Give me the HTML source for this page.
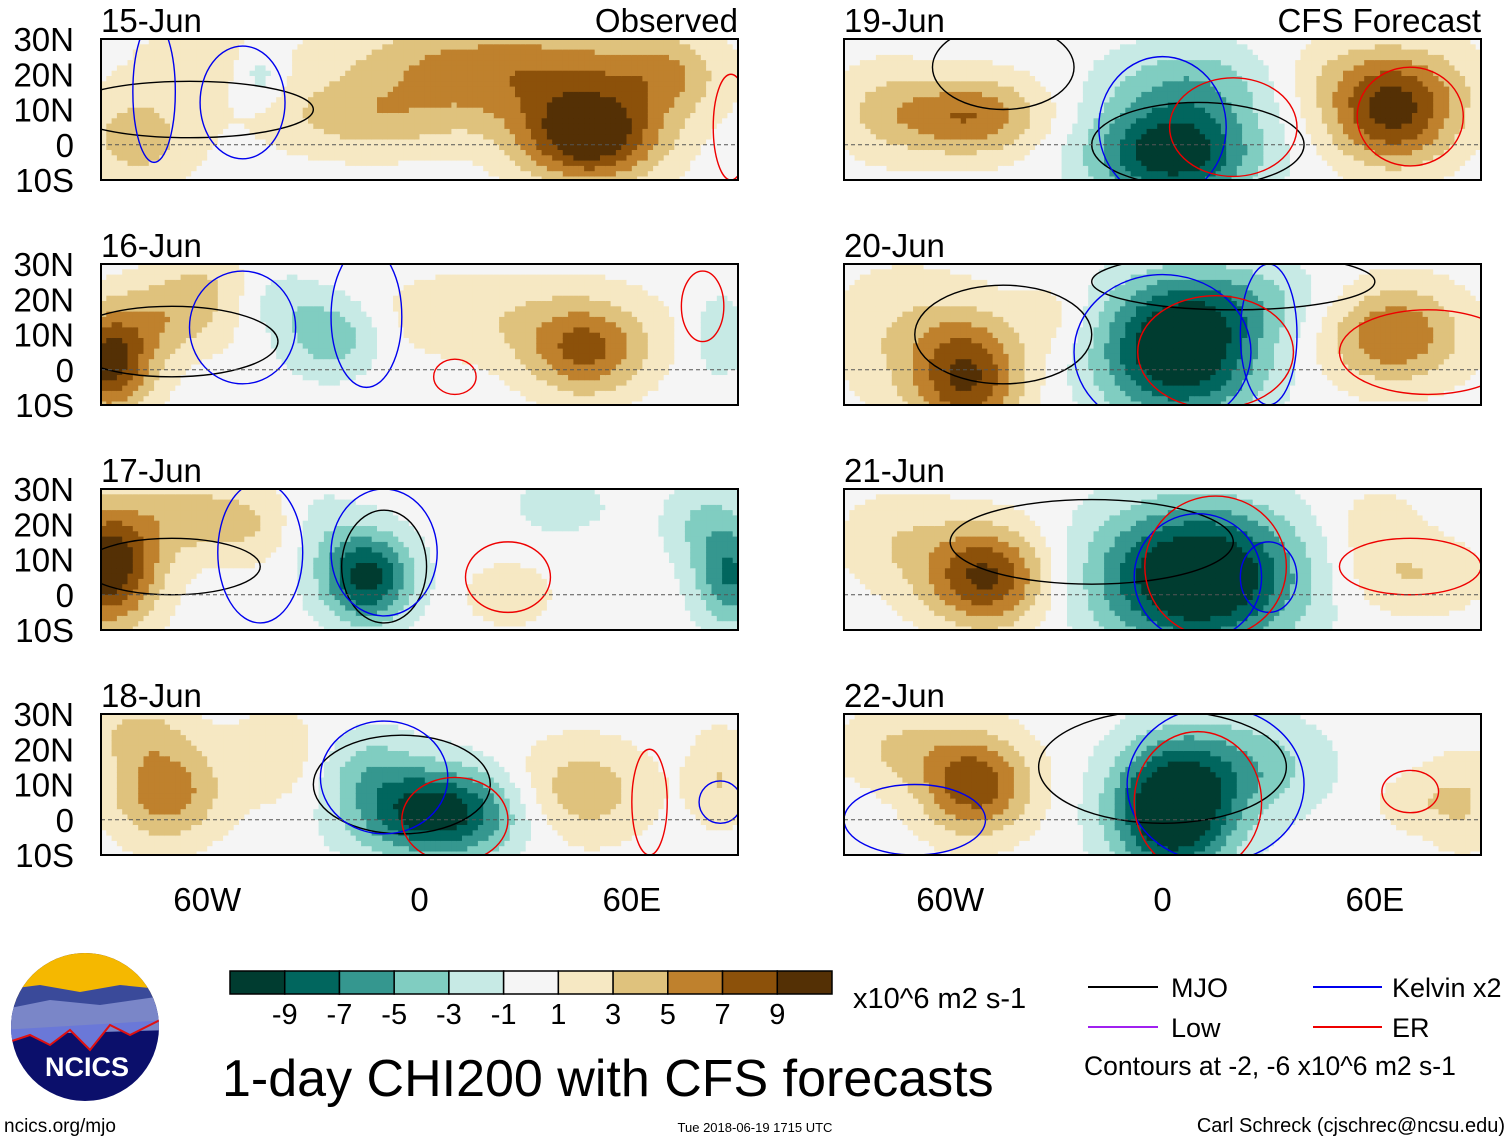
<!DOCTYPE html>
<html><head><meta charset="utf-8"><style>
body{margin:0;background:#fff;}
svg text{font-family:"Liberation Sans",Arial,sans-serif;}
</style></head><body>
<svg id="chart" width="1510" height="1142" viewBox="0 0 1510 1142" xmlns="http://www.w3.org/2000/svg">
<g id="panels"></g>
<g id="legend"></g>
</svg>
<script>
// ---- data ----
const panelDates = ["15-Jun","16-Jun","17-Jun","18-Jun","19-Jun","20-Jun","21-Jun","22-Jun"];
const latTicks = ["30N","20N","10N","0","10S"];
const latTickVals = [30,20,10,0,-10];
const lonTickLabels = ["60W","0","60E"];
const lonTickVals = [-60,0,60];
const levels = [-9,-7,-5,-3,-1,1,3,5,7,9];
const levelColors = ["#003c30","#01665e","#35978f","#80cdc1","#c7eae5","#f5f5f5","#f6e8c3","#dfc27d","#bf812d","#8c510a","#543005"];
// anomaly blobs per panel: [lon, lat, sigmaLon, sigmaLat, amplitude]
const blobs15 = [[48,2,14,9,11],[35,20,28,10,6],[-15,8,20,8,4],[-80,2,12,10,4],[-45,20,5,6,-3],[70,20,10,8,3],[-60,25,15,8,2],[0,25,20,8,2]];
const blobs16 = [[-88,2,9,10,10],[-70,15,12,8,4],[-25,10,10,8,-5],[-40,20,8,6,-2],[47,5,12,9,7],[20,15,30,9,2.5],[85,10,5,8,-3],[-60,25,10,6,2]];
const blobs17 = [[-88,8,10,12,11],[-65,22,12,8,3.5],[-15,5,9,9,-10],[-30,20,8,8,-2],[88,5,7,10,-7],[80,20,8,8,-3],[40,25,10,6,-2],[25,0,8,6,3],[-45,20,10,8,2.5]];
const blobs18 = [[-72,8,11,10,6.5],[-80,25,10,6,3],[5,2,16,9,-11],[-15,15,10,8,-3],[45,8,14,10,4.5],[85,12,6,10,3],[-40,18,10,10,2.5]];
const blobs19 = [[-55,8,15,8,7],[-80,10,10,10,2.5],[3,-2,16,10,-11],[10,18,18,8,-4],[65,8,13,10,9],[60,20,22,8,3]];
const blobs20 = [[-55,-2,11,12,9],[-75,10,14,14,2.5],[5,5,16,13,-12],[20,20,20,8,-3],[65,10,14,10,7],[-30,15,8,8,2]];
const blobs21 = [[-50,5,12,10,9.5],[-75,15,12,10,2.5],[10,5,20,14,-13],[70,5,15,8,3],[60,20,10,8,2]];
const blobs22 = [[-53,10,11,10,8.5],[-75,20,12,8,3],[3,3,12,13,-13],[25,15,15,10,-4],[85,5,8,10,3],[70,5,8,6,2]];
const panelBlobs = [blobs15,blobs16,blobs17,blobs18,blobs19,blobs20,blobs21,blobs22];
// contour ellipses: [lon, lat, rLon, rLat]
const mjoContours = [[[-65,10,35,8]],[[-70,8,30,10]],[[-70,8,25,8],[-10,8,12,16]],[[-5,10,25,14]],[[-45,22,20,12],[10,0,30,12]],[[-45,10,25,14],[20,25,40,8]],[[-20,15,40,12]],[[0,15,35,16]]];
const kelvinContours = [[[-75,15,6,20],[-50,12,12,16]],[[-50,12,15,16],[-15,15,10,20]],[[-45,12,12,20],[-10,12,15,18]],[[-10,12,18,16],[85,5,6,6]],[[0,5,18,20]],[[0,5,25,22],[30,10,8,20]],[[10,5,18,18],[30,5,8,10]],[[15,10,25,22],[-70,0,20,10]]];
const erContours = [[[88,5,5,15]],[[80,18,6,10],[10,-2,6,5]],[[25,5,12,10]],[[10,0,15,12],[65,5,5,15]],[[20,5,18,14],[70,8,15,14]],[[15,5,22,16],[75,5,25,12]],[[15,8,20,20],[70,8,20,8]],[[10,5,18,20],[70,8,8,6]]];

// ---- geometry ----
const panelX = [101,844], panelY = [39,264,489,714], PW = 637, PH = 141;
const NS = "http://www.w3.org/2000/svg";
function mk(tag, attrs, parent){const e=document.createElementNS(NS,tag);for(const k in attrs)e.setAttribute(k,attrs[k]);parent.appendChild(e);return e;}
function colorFor(v){let i=0;while(i<levels.length&&v>levels[i])i++;return levelColors[i];}
const root = document.getElementById('panels');
panelDates.forEach((d,p)=>{
  const col = p<4?0:1, row=p%4;
  const x0=panelX[col], y0=panelY[row];
  const xs = lon=>x0+(lon+90)/180*PW;
  const ys = lat=>y0+(30-lat)/40*PH;
  const g = mk('g',{},root);
  
  
  const clipId='clip'+p;
  const cp=mk('clipPath',{id:clipId},g);
  mk('rect',{x:x0,y:y0,width:PW,height:PH},cp);
  const cells=mk('g',{'clip-path':'url(#'+clipId+')'},g);
  const step=1.5;
  const bl = panelBlobs[p];
  for(let lon=-90;lon<90;lon+=step){
    for(let lat=30;lat>-10;lat-=step){
      const cx=lon+step/2, cy=lat-step/2;
      let v=0;
      bl.forEach(b=>{v+=b[4]*Math.exp(-((cx-b[0])**2)/(2*b[2]*b[2])-((cy-b[1])**2)/(2*b[3]*b[3]));});
      const r=mk('rect',{x:xs(lon).toFixed(1),y:ys(lat).toFixed(1),width:(step/180*PW+0.6).toFixed(1),height:(step/40*PH+0.6).toFixed(1),fill:colorFor(v)},cells);
      
      
    }
  }
  const cg=mk('g',{'clip-path':'url(#'+clipId+')',fill:'none','stroke-width':1.4},g);
  const drawC=(arr,color,name)=>arr[p].forEach(c=>{
    const e=mk('ellipse',{cx:xs(c[0]),cy:ys(c[1]),rx:c[2]/180*PW,ry:c[3]/40*PH,stroke:color},cg);
    
    
  });
  drawC(mjoContours,'#000','mjo-contour');
  drawC(kelvinContours,'#0000ee','kelvin-contour');
  drawC(erContours,'#ee0000','er-contour');
  const eq=mk('line',{x1:x0,x2:x0+PW,y1:ys(0),y2:ys(0),stroke:'#555','stroke-dasharray':'4,3','stroke-width':1},g);
  
  
  const fr=mk('rect',{x:x0,y:y0,width:PW,height:PH,fill:'none',stroke:'#000','stroke-width':2},g);
  
  
  const t=mk('text',{x:x0,y:y0-7,'font-size':33},g);t.textContent=d;
  
  
  if(row===0){const h=mk('text',{x:x0+PW,y:y0-7,'font-size':33,'text-anchor':'end'},g);h.textContent=col===0?'Observed':'CFS Forecast';
    
    }
  if(col===0){latTicks.forEach((l,i)=>{const tt=mk('text',{x:74,y:ys(latTickVals[i])+12,'font-size':33,'text-anchor':'end'},g);tt.textContent=l;
    
    });}
  if(row===3){lonTickLabels.forEach((l,i)=>{const tt=mk('text',{x:xs(lonTickVals[i]),y:911,'font-size':33,'text-anchor':'middle'},g);tt.textContent=l;
    
    });}
});

// ---- legend ----
const lg=document.getElementById('legend');
const bw=(832-230)/11;
levelColors.forEach((c,i)=>{const r=mk('rect',{x:230+i*bw,y:971,width:bw,height:23,fill:c,stroke:'#000','stroke-width':1.5},lg);
  
  });
levels.forEach((l,i)=>{const t=mk('text',{x:230+(i+1)*bw,y:1024,'font-size':29,'text-anchor':'middle'},lg);t.textContent=l;
  
  });
</script>
<svg style="position:absolute;left:0;top:0" width="1510" height="1142">
<text x="853" y="1008" font-size="29" font-family="Liberation Sans,sans-serif">x10^6 m2 s-1</text>
<text x="222" y="1096" font-size="52" font-family="Liberation Sans,sans-serif">1-day CHI200 with CFS forecasts</text>
<g font-family="Liberation Sans,sans-serif" font-size="27">
<line x1="1088" y1="987" x2="1158" y2="987" stroke="#000" stroke-width="2"/><text x="1171" y="997">MJO</text>
<line x1="1313" y1="987" x2="1382" y2="987" stroke="#0000ee" stroke-width="2"/><text x="1392" y="997">Kelvin x2</text>
<line x1="1088" y1="1027" x2="1158" y2="1027" stroke="#a020f0" stroke-width="2"/><text x="1171" y="1037">Low</text>
<line x1="1313" y1="1027" x2="1382" y2="1027" stroke="#ee0000" stroke-width="2"/><text x="1392" y="1037">ER</text>
<text x="1084" y="1075" font-size="26.5">Contours at -2, -6 x10^6 m2 s-1</text>
</g>
<g>
<clipPath id="lc"><circle cx="85" cy="1027" r="74"/></clipPath>
<g clip-path="url(#lc)">
<rect x="0" y="950" width="170" height="160" fill="#0b0f6b"/>
<rect x="0" y="950" width="170" height="55" fill="#f5b800"/>
<path d="M0 990 L40 985 L80 992 L120 985 L170 990 L170 1010 L0 1020Z" fill="#3a4a9a"/>
<path d="M0 1010 L50 1000 L100 1005 L170 995 L170 1030 L0 1035Z" fill="#7a86c8"/>
<path d="M0 1045 L30 1035 L50 1045 L70 1030 L90 1050 L110 1025 L130 1035 L170 1015 L170 1020 L0 1030Z" fill="#6a78d8"/>
<path d="M0 1045 L30 1035 L50 1045 L70 1030 L90 1050 L110 1025 L130 1035 L170 1015" fill="none" stroke="#e01010" stroke-width="2"/>
</g>
<text x="87" y="1076" font-size="27" font-weight="bold" fill="#fff" text-anchor="middle" font-family="Liberation Sans,sans-serif">NCICS</text>
</g>
<text x="4" y="1132" font-size="19" font-family="Liberation Sans,sans-serif">ncics.org/mjo</text>
<text x="755" y="1132" font-size="13" text-anchor="middle" font-family="Liberation Sans,sans-serif">Tue 2018-06-19 1715 UTC</text>
<text x="1505" y="1132" font-size="20" text-anchor="end" font-family="Liberation Sans,sans-serif">Carl Schreck (cjschrec@ncsu.edu)</text>
</svg>
</body></html>
